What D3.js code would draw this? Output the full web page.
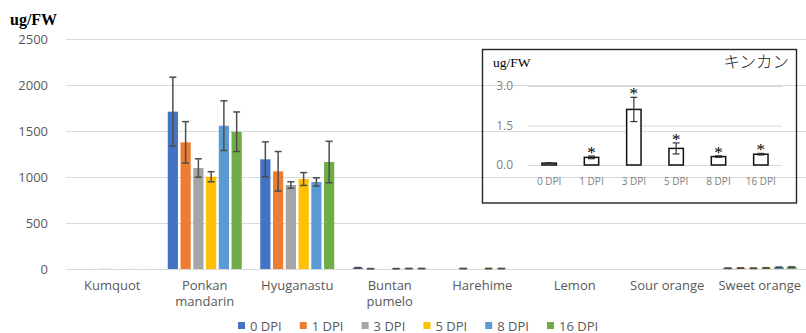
<!DOCTYPE html>
<html>
<head>
<meta charset="utf-8">
<script src="https://cdn.jsdelivr.net/npm/d3@7/dist/d3.min.js"></script>
<style>
  body { margin: 0; background: #fff; }
  svg { display: block; }
</style>
</head>
<body>
<svg id="chart" width="806" height="333"></svg>
<script>
// cultivars on the x axis, "\n" splits the label in two lines
const cultivars = ["Kumquot", "Ponkan\nmandarin", "Hyuganastu", "Buntan\npumelo",
                   "Harehime", "Lemon", "Sour orange", "Sweet orange"];
const series = ["0 DPI", "1 DPI", "3 DPI", "5 DPI", "8 DPI", "16 DPI"];
const colors = ["#4472C4", "#ED7D31", "#A5A5A5", "#FFC000", "#5B9BD5", "#70AD47"];

// mean content (ug/FW) per time point, one value per cultivar
const dpi0  = [0.07, 1710, 1192, 13, 0, 0, 0, 8];
const dpi1  = [0.29, 1377, 1062, 4, 5, 0, 0, 10];
const dpi3  = [2.11, 1098, 913, 0, 0, 0, 0, 8];
const dpi5  = [0.63, 1003, 978, 4, 5, 0, 0, 12];
const dpi8  = [0.32, 1558, 946, 5, 5, 0, 0, 18];
const dpi16 = [0.41, 1492, 1163, 5, 0, 0, 0, 20];

// error bars
const err0  = [0.02, 375, 190, 3, 0, 0, 0, 2];
const err1  = [0.05, 225, 215, 1, 1, 0, 0, 2];
const err3  = [0.46, 100, 35, 0, 0, 0, 0, 2];
const err5  = [0.21, 55, 70, 1, 1, 0, 0, 2];
const err8  = [0.03, 270, 45, 1, 1, 0, 0, 3];
const err16 = [0.03, 215, 225, 1, 0, 0, 0, 3];

const yTicks = [0, 500, 1000, 1500, 2000, 2500];

// inset: kumquat alone
const insetTitle = "キンカン";
const insetTicks = [0, 1.5, 3.0];
const insetSig = [false, true, true, true, true, true];

const means = [dpi0, dpi1, dpi3, dpi5, dpi8, dpi16];
const errs = [err0, err1, err3, err5, err8, err16];

const svg = d3.select("#chart");
const gray = "#595959";
const grid = "#d9d9d9";
const sans = "'Open Sans', 'Noto Sans', sans-serif";

// ---------- main chart ----------
const x = d3.scaleBand().domain(cultivars).range([66, 806]).paddingInner(0.2).paddingOuter(0.1);
const xs = d3.scaleBand().domain(series).range([0, x.bandwidth()]).paddingInner(0.2);
const y = d3.scaleLinear().domain([0, 2500]).range([269, 39]);

const yAxis = svg.append("g")
  .attr("transform", "translate(66,0)")
  .call(d3.axisLeft(y).tickValues(yTicks).tickSize(-740).tickPadding(18).tickFormat(d3.format("d")));
yAxis.select(".domain").remove();
yAxis.selectAll(".tick line").attr("stroke", grid).attr("stroke-width", 1);
yAxis.selectAll(".tick text").attr("fill", gray).style("font-family", sans).style("font-size", "13px");

svg.append("text")
  .attr("x", 10).attr("y", 25)
  .style("font-family", "'Liberation Serif', serif").style("font-weight", "bold").style("font-size", "16px")
  .attr("fill", "#000").text("ug/FW");

// category labels
const xl = svg.append("g");
cultivars.forEach(c => {
  c.split("\n").forEach((line, k) => {
    xl.append("text")
      .attr("x", x(c) + x.bandwidth() / 2).attr("y", 290 + k * 16)
      .attr("text-anchor", "middle").attr("fill", gray)
      .style("font-family", sans).style("font-size", "13px").text(line);
  });
});

// bars
const rows = [];
series.forEach((s, si) => {
  cultivars.forEach((c, ci) => {
    rows.push({ s, si, c, ci, v: means[si][ci], e: errs[si][ci] });
  });
});

svg.append("g").selectAll("rect").data(rows).join("rect")
  .attr("x", d => x(d.c) + xs(d.s))
  .attr("y", d => y(d.v))
  .attr("width", xs.bandwidth())
  .attr("height", d => y(0) - y(d.v))
  .attr("fill", d => colors[d.si]);

// kumquat error bars are shown in the inset only
const eb = svg.append("g").attr("stroke", "#4d4d4d").attr("stroke-width", 1.5)
  .selectAll("g").data(rows.filter(d => d.e > 0 && d.ci > 0)).join("g")
  .attr("transform", d => `translate(${x(d.c) + xs(d.s) + xs.bandwidth() / 2},0)`);
eb.append("line").attr("y1", d => y(d.v + d.e)).attr("y2", d => y(Math.max(0, d.v - d.e)));
eb.append("line").attr("x1", -3.5).attr("x2", 3.5).attr("y1", d => y(d.v + d.e)).attr("y2", d => y(d.v + d.e));
eb.append("line").attr("x1", -3.5).attr("x2", 3.5)
  .attr("y1", d => y(Math.max(0, d.v - d.e))).attr("y2", d => y(Math.max(0, d.v - d.e)));

// legend
const lx = d3.scalePoint().domain(series).range([238, 547]);
const lg = svg.append("g").selectAll("g").data(series).join("g")
  .attr("transform", d => `translate(${lx(d)},326)`);
lg.append("rect").attr("x", 0).attr("y", -4).attr("width", 7).attr("height", 7)
  .attr("fill", (d, i) => colors[i]);
lg.append("text").attr("x", 12).attr("y", 4.5).attr("fill", gray)
  .style("font-family", sans).style("font-size", "13px").text(d => d);

// ---------- inset ----------
const inset = svg.append("g");
inset.append("rect").attr("x", 482.5).attr("y", 49.5).attr("width", 314).attr("height", 153.5)
  .attr("fill", "none").attr("stroke", "#262626").attr("stroke-width", 1.4);

inset.append("text").attr("x", 493).attr("y", 67)
  .style("font-family", "'Liberation Serif', serif").style("font-size", "13.5px")
  .attr("fill", "#000").text("ug/FW");
inset.append("text").attr("x", 789).attr("y", 68).attr("text-anchor", "end")
  .style("font-family", "'Noto Sans CJK JP', sans-serif").style("font-size", "16.5px").style("font-weight", 300)
  .attr("fill", "#222").text(insetTitle);

const ix = d3.scaleBand().domain(series).range([528, 782]).paddingInner(0.66).paddingOuter(0.33);
const iy = d3.scaleLinear().domain([0, 3]).range([165, 86]);

const iAxis = inset.append("g").attr("transform", "translate(528,0)")
  .call(d3.axisLeft(iy).tickValues(insetTicks).tickSize(-254).tickPadding(15).tickFormat(d3.format(".1f")));
iAxis.select(".domain").remove();
iAxis.selectAll(".tick line").attr("stroke", grid);
iAxis.selectAll(".tick text").attr("fill", "#7f7f7f").style("font-family", sans).style("font-size", "12px");

const kum = series.map((s, si) => ({ s, v: means[si][0], e: errs[si][0], sig: insetSig[si] }));

inset.append("g").selectAll("rect").data(kum).join("rect")
  .attr("x", d => ix(d.s)).attr("y", d => iy(d.v))
  .attr("width", ix.bandwidth()).attr("height", d => iy(0) - iy(d.v))
  .attr("fill", "#fff").attr("stroke", "#111").attr("stroke-width", 1.5);

const ieb = inset.append("g").attr("stroke", "#333").attr("stroke-width", 1.2)
  .selectAll("g").data(kum).join("g")
  .attr("transform", d => `translate(${ix(d.s) + ix.bandwidth() / 2},0)`);
ieb.append("line").attr("y1", d => iy(d.v + d.e)).attr("y2", d => iy(d.v - d.e));
ieb.append("line").attr("x1", -3.5).attr("x2", 3.5).attr("y1", d => iy(d.v + d.e)).attr("y2", d => iy(d.v + d.e));
ieb.append("line").attr("x1", -3.5).attr("x2", 3.5).attr("y1", d => iy(d.v - d.e)).attr("y2", d => iy(d.v - d.e));

inset.append("g").selectAll("text").data(kum.filter(d => d.sig)).join("text")
  .attr("x", d => ix(d.s) + ix.bandwidth() / 2).attr("y", d => iy(d.v + d.e) + 2)
  .attr("text-anchor", "middle")
  .style("font-family", "'Liberation Serif', serif").style("font-size", "17px")
  .attr("fill", "#000").text("*");

inset.append("g").selectAll("text").data(series).join("text")
  .attr("x", d => ix(d) + ix.bandwidth() / 2).attr("y", 185)
  .attr("text-anchor", "middle").attr("fill", "#808080")
  .style("font-family", sans).style("font-size", "10px").text(d => d);
</script>
</body>
</html>
